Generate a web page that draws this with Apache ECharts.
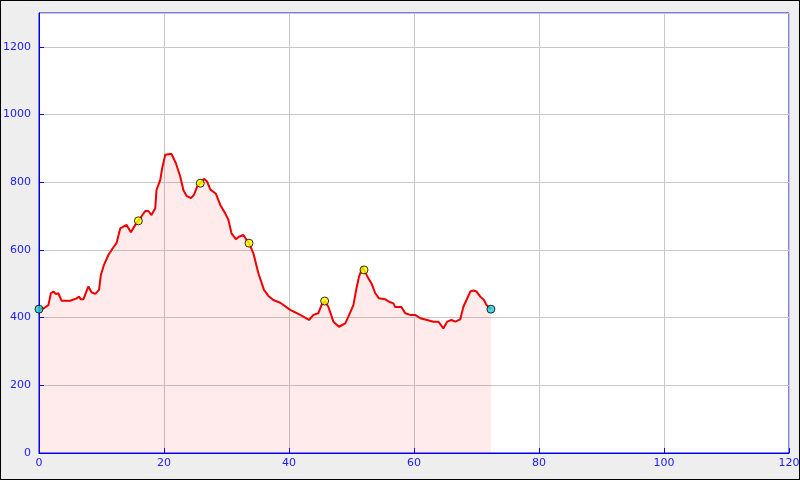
<!DOCTYPE html>
<html><head><meta charset="utf-8">
<script src="https://cdn.jsdelivr.net/npm/echarts@6/dist/echarts.min.js"></script>
<style>
html,body{margin:0;padding:0;background:#eeeeee;}
#c{width:798px;height:478px;border:1px solid #000;background:#eeeeee;}
</style></head><body><div id="c"></div>
<script>
const distanceKm = [0,0.7,1.5,1.9,2.3,2.7,3.1,3.6,5.0,6.0,6.4,6.7,7.1,7.9,8.4,9.0,9.6,9.9,10.4,11.1,11.8,12.4,13.0,14.0,14.7,15.4,15.9,17.0,17.5,18.0,18.6,18.8,19.4,19.7,20.2,20.4,21.2,21.9,22.6,23.1,23.6,24.3,24.8,25.3,25.8,26.4,26.9,27.4,28.3,29.0,29.8,30.3,30.8,31.5,32.0,32.7,33.2,33.6,34.3,35.1,36.0,36.7,37.5,38.6,40.2,41.8,43.2,43.9,44.7,45.2,45.7,46.3,47.1,48.0,49.0,49.5,50.3,50.8,51.2,51.8,52.0,52.7,53.2,53.8,54.4,55.4,56.0,56.7,57.0,58.0,58.6,59.4,60.2,61.0,62.1,63.1,63.9,64.7,65.3,66.0,66.6,67.4,67.9,68.4,69.0,69.5,70.0,70.6,71.2,71.6,72.3];
const elevationM = [425,427,437,472,477,470,472,450,450,457,462,454,454,492,475,470,482,526,556,585,605,620,664,674,652,674,686,715,715,703,723,777,807,841,881,876,884,856,817,777,760,753,763,787,797,810,802,779,766,733,708,689,649,632,639,644,630,620,590,531,482,464,452,444,423,408,393,408,413,437,449,432,388,373,383,403,437,487,521,551,541,516,501,472,457,454,447,442,431,431,413,408,408,398,393,388,388,368,388,393,388,395,432,452,477,480,477,462,452,437,425];
const startEndKm = [0,72.3];
const startEndM = [425,425];
const waypointKm = [15.9,25.8,33.6,45.7,52.0];
const waypointM = [686,797,620,449,541];

const chart = echarts.init(document.getElementById('c'));
const lblColor = '#2020f0';
chart.setOption({
  animation:false,
  backgroundColor:'#eeeeee',
  grid:{left:38,right:10,top:12,bottom:26,outerBoundsMode:'none',containLabel:false,show:true,backgroundColor:'#ffffff',borderColor:'#0000ee',borderWidth:1},
  xAxis:{type:'value',min:0,max:120,interval:20,
    axisLine:{show:true,lineStyle:{color:'#0000ee',width:1}},
    axisTick:{show:true,inside:true,length:5,lineStyle:{color:'#0000ee'}},
    axisLabel:{color:lblColor,fontFamily:'DejaVu Sans',fontSize:11,margin:5,showMaxLabel:true,formatter:v=>String(v)},
    splitLine:{show:true,lineStyle:{color:'#c8c8c8',width:1}}},
  yAxis:{type:'value',min:0,max:1300,interval:200,
    axisLine:{show:true,lineStyle:{color:'#0000ee',width:1}},
    axisTick:{show:true,inside:true,length:5,lineStyle:{color:'#0000ee'}},
    axisLabel:{color:lblColor,fontFamily:'DejaVu Sans',fontSize:11,margin:8,showMaxLabel:false,formatter:v=>String(v)},
    splitLine:{show:true,lineStyle:{color:'#c8c8c8',width:1}}},
  series:[
    {type:'line',data:distanceKm.map((d,i)=>[d,elevationM[i]]),symbol:'none',
     lineStyle:{color:'#ee0000',width:2},areaStyle:{color:'rgba(255,0,0,0.11)',origin:'start'},z:2},
    {type:'scatter',data:waypointKm.map((d,i)=>[d,waypointM[i]]),symbolSize:8,
     itemStyle:{color:'#ffff00',borderColor:'#000',borderWidth:1},z:5},
    {type:'scatter',data:startEndKm.map((d,i)=>[d,startEndM[i]]),symbolSize:8,
     itemStyle:{color:'#22ccdd',borderColor:'#000',borderWidth:1},z:5}
  ]
});
</script></body></html>
